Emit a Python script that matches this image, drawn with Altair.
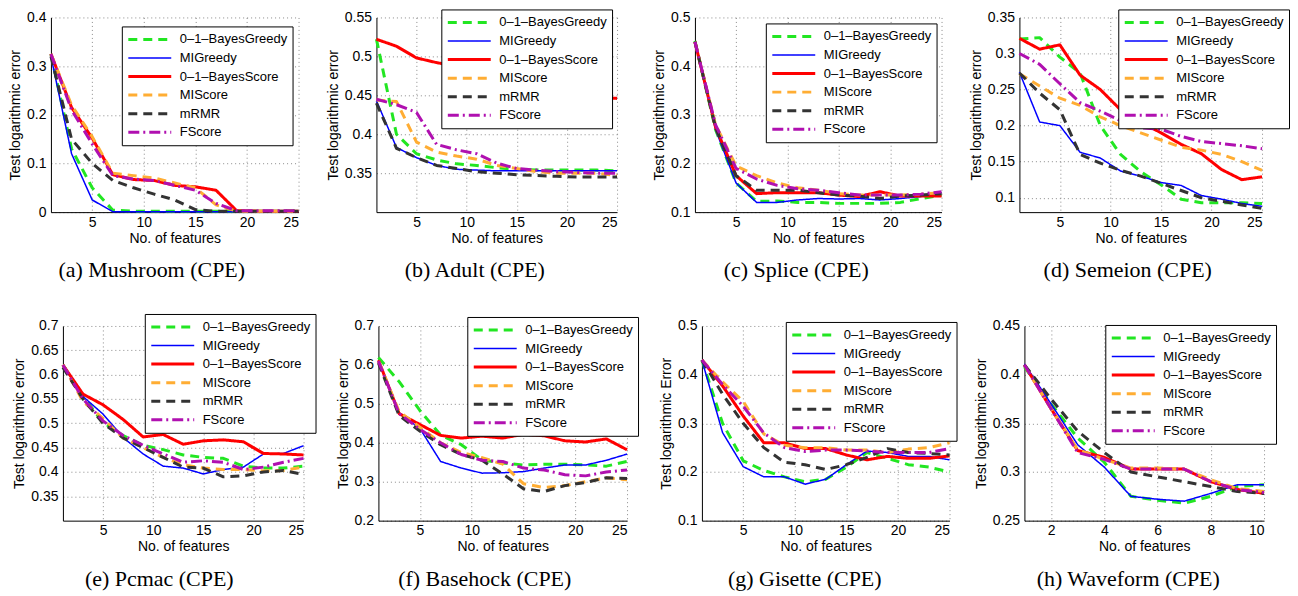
import altair as alt
import pandas as pd

METHODS = ["0–1–BayesGreedy", "MIGreedy", "0–1–BayesScore", "MIScore", "mRMR", "FScore"]
COLORS = ["#22e622", "#0000ff", "#ff0000", "#ffad33", "#333333", "#b010b0"]
DASHES = [[9, 6], [1, 0], [1, 0], [9, 6], [9, 6], [11, 4, 2, 4]]
WIDTHS = [3, 1.5, 3, 3, 3, 3]

X25 = [1, 3, 5, 7, 9, 11, 13, 15, 17, 19, 21, 23, 25]
X10 = [1, 2, 3, 4, 5, 6, 7, 8, 9, 10]

# (a) Mushroom
A_BG = [0.325, 0.13, 0.05, 0.004, 0.002, 0.002, 0.002, 0.002, 0.002, 0.002, 0.002, 0.002, 0.003]
A_MIG = [0.32, 0.12, 0.025, 0.001, 0.001, 0.001, 0.001, 0.001, 0.001, 0.001, 0.001, 0.001, 0.001]
A_BS = [0.325, 0.215, 0.152, 0.077, 0.067, 0.065, 0.055, 0.052, 0.045, 0.003, 0.002, 0.002, 0.002]
A_MIS = [0.325, 0.22, 0.155, 0.08, 0.075, 0.07, 0.06, 0.05, 0.015, 0.002, 0.002, 0.002, 0.002]
A_MR = [0.32, 0.15, 0.10, 0.065, 0.05, 0.037, 0.025, 0.005, 0.002, 0.002, 0.002, 0.002, 0.002]
A_FS = [0.325, 0.21, 0.14, 0.075, 0.068, 0.065, 0.055, 0.045, 0.018, 0.003, 0.003, 0.003, 0.003]

# (b) Adult
B_BG = [0.522, 0.40, 0.375, 0.367, 0.362, 0.36, 0.357, 0.355, 0.354, 0.354, 0.354, 0.354, 0.353]
B_MIG = [0.443, 0.383, 0.37, 0.36, 0.355, 0.354, 0.353, 0.353, 0.353, 0.353, 0.353, 0.353, 0.353]
B_BS = [0.522, 0.513, 0.498, 0.492, 0.487, 0.48, 0.472, 0.465, 0.46, 0.455, 0.451, 0.448, 0.446]
B_MIS = [0.444, 0.442, 0.39, 0.377, 0.372, 0.368, 0.36, 0.356, 0.352, 0.35, 0.35, 0.35, 0.347]
B_MR = [0.44, 0.382, 0.37, 0.36, 0.356, 0.352, 0.35, 0.348, 0.347, 0.346, 0.345, 0.345, 0.345]
B_FS = [0.445, 0.438, 0.428, 0.387, 0.38, 0.375, 0.363, 0.356, 0.354, 0.352, 0.351, 0.35, 0.35]

# (c) Splice
C_BG = [0.452, 0.27, 0.16, 0.122, 0.123, 0.12, 0.12, 0.118, 0.118, 0.118, 0.12, 0.128, 0.135]
C_MIG = [0.45, 0.27, 0.16, 0.12, 0.12, 0.125, 0.128, 0.127, 0.128, 0.125, 0.128, 0.132, 0.14]
C_BS = [0.45, 0.275, 0.175, 0.138, 0.14, 0.14, 0.14, 0.135, 0.132, 0.142, 0.133, 0.133, 0.133]
C_MIS = [0.45, 0.28, 0.195, 0.175, 0.16, 0.15, 0.145, 0.138, 0.135, 0.135, 0.135, 0.137, 0.14]
C_MR = [0.45, 0.275, 0.175, 0.145, 0.145, 0.145, 0.14, 0.135, 0.133, 0.128, 0.133, 0.135, 0.138]
C_FS = [0.45, 0.28, 0.19, 0.168, 0.155, 0.148, 0.145, 0.14, 0.135, 0.135, 0.135, 0.137, 0.142]

# (d) Semeion
D_BG = [0.32, 0.322, 0.295, 0.273, 0.2, 0.16, 0.136, 0.118, 0.098, 0.093, 0.093, 0.093, 0.092]
D_MIG = [0.274, 0.205, 0.2, 0.163, 0.155, 0.137, 0.13, 0.121, 0.117, 0.103, 0.098, 0.092, 0.088]
D_BS = [0.321, 0.306, 0.312, 0.27, 0.25, 0.222, 0.205, 0.19, 0.174, 0.161, 0.139, 0.125, 0.129]
D_MIS = [0.272, 0.255, 0.238, 0.228, 0.212, 0.2, 0.19, 0.18, 0.17, 0.166, 0.16, 0.15, 0.138]
D_MR = [0.273, 0.245, 0.222, 0.16, 0.148, 0.138, 0.13, 0.12, 0.11, 0.1, 0.095, 0.09, 0.085]
D_FS = [0.3, 0.285, 0.258, 0.232, 0.22, 0.207, 0.197, 0.195, 0.185, 0.178, 0.175, 0.172, 0.168]

# (e) Pcmac
E_BG = [0.62, 0.555, 0.502, 0.475, 0.455, 0.446, 0.435, 0.43, 0.428, 0.412, 0.408, 0.408, 0.412]
E_MIG = [0.62, 0.555, 0.519, 0.471, 0.437, 0.412, 0.408, 0.396, 0.405, 0.41, 0.437, 0.438, 0.454]
E_BS = [0.62, 0.56, 0.538, 0.508, 0.472, 0.477, 0.457, 0.464, 0.466, 0.462, 0.438, 0.437, 0.435]
E_MIS = [0.62, 0.545, 0.51, 0.47, 0.45, 0.43, 0.415, 0.408, 0.405, 0.405, 0.402, 0.403, 0.41]
E_MR = [0.615, 0.55, 0.5, 0.47, 0.45, 0.43, 0.41, 0.408, 0.39, 0.392, 0.4, 0.403, 0.395]
E_FS = [0.62, 0.55, 0.505, 0.475, 0.455, 0.437, 0.42, 0.423, 0.42, 0.405, 0.41, 0.42, 0.428]

# (f) Basehock
F_BG = [0.619, 0.557, 0.483, 0.42, 0.395, 0.356, 0.348, 0.343, 0.345, 0.345, 0.343, 0.34, 0.352]
F_MIG = [0.61, 0.475, 0.437, 0.352, 0.335, 0.322, 0.323, 0.326, 0.335, 0.343, 0.343, 0.355, 0.371]
F_BS = [0.612, 0.475, 0.447, 0.419, 0.412, 0.417, 0.412, 0.422, 0.418, 0.405, 0.402, 0.41, 0.382]
F_MIS = [0.61, 0.48, 0.44, 0.4, 0.375, 0.362, 0.345, 0.295, 0.285, 0.29, 0.3, 0.31, 0.305]
F_MR = [0.605, 0.47, 0.43, 0.395, 0.37, 0.355, 0.32, 0.282, 0.275, 0.29, 0.298, 0.31, 0.308]
F_FS = [0.61, 0.475, 0.435, 0.4, 0.37, 0.355, 0.352, 0.335, 0.33, 0.318, 0.315, 0.325, 0.33]

# (g) Gisette
G_BG = [0.43, 0.30, 0.223, 0.203, 0.19, 0.18, 0.185, 0.21, 0.24, 0.228, 0.215, 0.21, 0.2]
G_MIG = [0.43, 0.281, 0.211, 0.19, 0.19, 0.175, 0.185, 0.215, 0.243, 0.24, 0.232, 0.232, 0.225]
G_BS = [0.43, 0.377, 0.315, 0.26, 0.26, 0.248, 0.248, 0.235, 0.225, 0.232, 0.228, 0.228, 0.233]
G_MIS = [0.43, 0.385, 0.345, 0.278, 0.255, 0.25, 0.25, 0.245, 0.245, 0.24, 0.247, 0.25, 0.26]
G_MR = [0.43, 0.36, 0.30, 0.25, 0.22, 0.215, 0.205, 0.215, 0.23, 0.248, 0.24, 0.238, 0.235]
G_FS = [0.43, 0.38, 0.335, 0.28, 0.25, 0.242, 0.245, 0.245, 0.243, 0.24, 0.24, 0.24, 0.248]

# (h) Waveform
H_BG = [0.408, 0.37, 0.335, 0.31, 0.275, 0.271, 0.268, 0.275, 0.285, 0.287]
H_MIG = [0.411, 0.37, 0.328, 0.305, 0.275, 0.272, 0.27, 0.278, 0.287, 0.287]
H_BS = [0.41, 0.365, 0.322, 0.315, 0.303, 0.303, 0.303, 0.29, 0.282, 0.278]
H_MIS = [0.41, 0.365, 0.323, 0.313, 0.304, 0.304, 0.303, 0.292, 0.283, 0.28]
H_MR = [0.41, 0.375, 0.342, 0.32, 0.3, 0.295, 0.29, 0.285, 0.28, 0.278]
H_FS = [0.41, 0.365, 0.32, 0.313, 0.303, 0.303, 0.303, 0.29, 0.282, 0.279]

SANS = "Liberation Sans"
SERIF = "Liberation Serif"
H = 195


def panel(xs, series, width, xdom, xticks, ydom, yticks, ytitle, caption,
          lx, ly, cdx, xshift=0):
    rows = []
    for m, vals in zip(METHODS, series):
        for xv, yv in zip(xs, vals):
            rows.append({"x": xv, "y": yv, "method": m})
    df = pd.DataFrame(rows)

    legend = alt.Legend(
        title=None, orient="none", legendX=lx, legendY=ly,
        strokeColor="black", fillColor="white", padding=5,
        symbolType="stroke", symbolSize=1849, clipHeight=16, rowPadding=2.6,
        labelOffset=7, labelFont=SANS, labelFontSize=13, labelColor="black",
        labelLimit=200,
    )
    if xshift:
        xscale = alt.Scale(domain=xdom, nice=False, zero=False, range=[xshift, width])
        yaxis = alt.Axis(values=yticks, format=".2~f", title=ytitle, offset=-xshift)
    else:
        xscale = alt.Scale(domain=xdom, nice=False, zero=False)
        yaxis = alt.Axis(values=yticks, format=".2~f", title=ytitle)

    base = alt.Chart(df).encode(
        x=alt.X("x:Q", scale=xscale,
                axis=alt.Axis(values=xticks, title="No. of features", format="d")),
        y=alt.Y("y:Q", scale=alt.Scale(domain=ydom, nice=False, zero=False), axis=yaxis),
        color=alt.Color("method:N", scale=alt.Scale(domain=METHODS, range=COLORS), legend=legend),
        strokeDash=alt.StrokeDash("method:N", scale=alt.Scale(domain=METHODS, range=DASHES), legend=legend),
        strokeWidth=alt.StrokeWidth("method:N",
                                    scale=alt.Scale(type="ordinal", domain=METHODS, range=WIDTHS),
                                    legend=legend),
    )
    layers = [
        base.transform_filter(alt.datum.method == m).mark_line(strokeCap="butt", strokeJoin="round")
        for m in METHODS
    ]
    return alt.layer(*layers).properties(
        width=width, height=H,
        title=alt.TitleParams(caption, orient="bottom", anchor="middle", frame="group",
                              dx=cdx, offset=15, font=SERIF, fontSize=22,
                              fontWeight="normal", color="black"),
    )


YT = "Test logarithmic error"
pa = panel(X25, [A_BG, A_MIG, A_BS, A_MIS, A_MR, A_FS], 248, [1, 25], [5, 10, 15, 20, 25],
           [0, 0.4], [0, 0.1, 0.2, 0.3, 0.4], YT, "(a)  Mushroom (CPE)", 71, 9, -23)
pb = panel(X25, [B_BG, B_MIG, B_BS, B_MIS, B_MR, B_FS], 241, [1, 25], [5, 10, 15, 20, 25],
           [0.3, 0.55], [0.35, 0.4, 0.45, 0.5, 0.55], YT, "(b)  Adult (CPE)", 65, -8, -22)
pc = panel(X25, [C_BG, C_MIG, C_BS, C_MIS, C_MR, C_FS], 247, [1, 25], [5, 10, 15, 20, 25],
           [0.1, 0.5], [0.1, 0.2, 0.3, 0.4, 0.5], YT, "(c)  Splice (CPE)", 71, 6, -22)
pd_ = panel(X25, [D_BG, D_MIG, D_BS, D_MIS, D_MR, D_FS], 243, [1, 25], [5, 10, 15, 20, 25],
            [0.08, 0.35], [0.1, 0.15, 0.2, 0.25, 0.3, 0.35], YT, "(d)  Semeion (CPE)", 99, -8, -13)
pe = panel(X25, [E_BG, E_MIG, E_BS, E_MIS, E_MR, E_FS], 253, [1, 25], [5, 10, 15, 20, 25],
           [0.3, 0.7], [0.35, 0.4, 0.45, 0.5, 0.55, 0.6, 0.65, 0.7], YT, "(e)  Pcmac (CPE)",
           94, -12, -18, xshift=12)
pf = panel(X25, [F_BG, F_MIG, F_BS, F_MIS, F_MR, F_FS], 249, [1, 25], [5, 10, 15, 20, 25],
           [0.2, 0.7], [0.2, 0.3, 0.4, 0.5, 0.6, 0.7], YT, "(f)  Basehock (CPE)", 89, -9, -18)
pg = panel(X25, [G_BG, G_MIG, G_BS, G_MIS, G_MR, G_FS], 248, [1, 25], [5, 10, 15, 20, 25],
           [0.1, 0.5], [0.1, 0.2, 0.3, 0.4, 0.5], "Test logarithmic Error", "(g)  Gisette (CPE)",
           84, -4, -21)
ph = panel(X10, [H_BG, H_MIG, H_BS, H_MIS, H_MR, H_FS], 240, [1, 10], [2, 4, 6, 8, 10],
           [0.25, 0.45], [0.25, 0.3, 0.35, 0.4, 0.45], YT, "(h)  Waveform (CPE)", 81, -1, -16)

IND = dict(color="independent", strokeDash="independent", strokeWidth="independent")

row1 = alt.hconcat(pa, pb, pc, pd_, spacing=78, bounds="flush").resolve_scale(**IND)
row2 = alt.hconcat(pe, pf, pg, ph, spacing=75, bounds="flush").resolve_scale(**IND)

chart = (
    alt.vconcat(row1, row2, spacing=31, bounds="full")
    .resolve_scale(**IND)
    .properties(padding={"left": 0, "top": 0, "right": 0, "bottom": 0})
    .configure_view(stroke="transparent")
    .configure_axis(
        domainColor="black", domainWidth=1, ticks=False,
        grid=True, gridColor="#8a8a8a", gridDash=[1, 3], gridWidth=1,
        labelFont=SANS, labelFontSize=14, labelColor="black", labelPadding=5,
        titleFont=SANS, titleFontSize=14, titleColor="black", titleFontWeight="normal",
    )
    .configure_axisX(labelPadding=3, titlePadding=2)
    .configure_axisY(titlePadding=4)
)

chart.save("out.html", embed_options={"renderer": "svg", "actions": False})
